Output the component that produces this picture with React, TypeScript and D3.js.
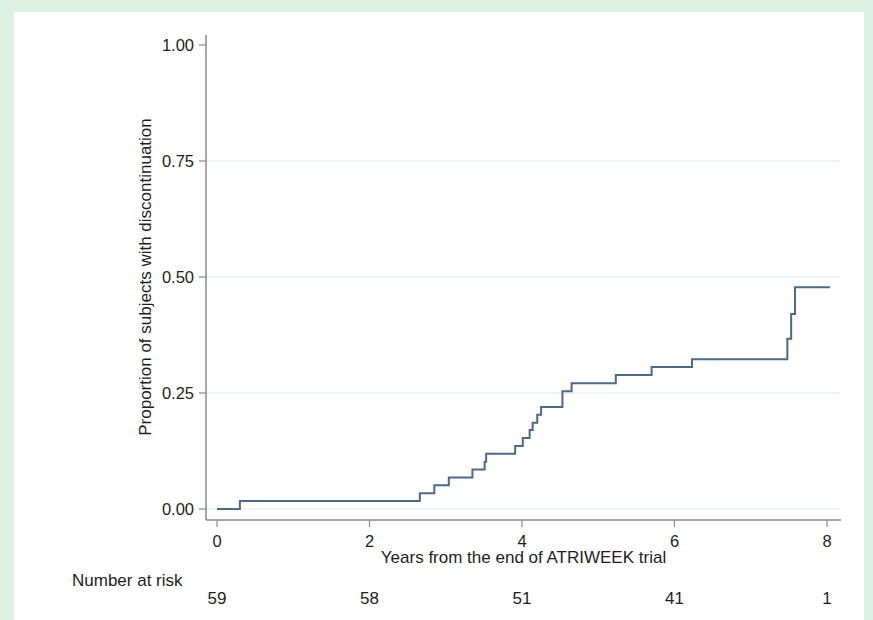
import React from 'react'
import * as d3 from 'd3'

// Kaplan-Meier style cumulative discontinuation
const eventYears = [0, 0.3, 2.66, 2.85, 3.04, 3.35, 3.51, 3.53, 3.91, 4.01, 4.1, 4.14, 4.2, 4.25, 4.53, 4.65, 5.23, 5.7, 6.23, 7.48, 7.53, 7.58, 8.04]
const cumProportion = [0, 0.017, 0.034, 0.051, 0.068, 0.085, 0.102, 0.119, 0.136, 0.153, 0.17, 0.186, 0.203, 0.22, 0.254, 0.271, 0.289, 0.306, 0.323, 0.367, 0.42, 0.478, 0.478]
const yTicks = [0, 0.25, 0.5, 0.75, 1]
const xTicks = [0, 2, 4, 6, 8]
const atRisk = [59, 58, 51, 41, 1]

const W = 873
const H = 620
const font = '"Liberation Sans", Arial, sans-serif'
const textColor = '#1e1e1e'
const axisColor = '#8a8a8a'
const gridColor = '#eaf2f2'
const lineColor = '#4a6a8d'

const App = () => {
  const x = d3.scaleLinear().domain([0, 8]).range([217, 827])
  const y = d3.scaleLinear().domain([0, 1]).range([509, 45])

  const pts = eventYears.map((t, i) => [t, cumProportion[i]] as [number, number])
  const path = d3.line<[number, number]>()
      .x(d => x(d[0]))
      .y(d => y(d[1]))
      .curve(d3.curveStepAfter)(pts)

  const axisLeft = 206
  const axisBottom = 520
  const plotRight = 841

  return (
      <svg width={W} height={H} style={{ position: 'absolute', left: 0, top: 0 }} fontFamily={font}>
        <rect x={0} y={0} width={W} height={H} fill="#dcf1e2" />
        <rect x={14} y={12} width={850} height={H - 12} fill="#ffffff" />

        {/* grid */}
        {yTicks.filter(t => t < 1).map(t => (
            <line key={'g' + t} x1={axisLeft} x2={plotRight} y1={y(t)} y2={y(t)} stroke={gridColor} strokeWidth={1.5} />
        ))}

        {/* y axis */}
        <line x1={axisLeft} x2={axisLeft} y1={35} y2={axisBottom} stroke={axisColor} strokeWidth={1.5} />
        {yTicks.map(t => (
            <g key={'y' + t}>
              <line x1={axisLeft - 7} x2={axisLeft} y1={y(t)} y2={y(t)} stroke={axisColor} strokeWidth={1.2} />
              <text x={axisLeft - 12} y={y(t)} dy="0.36em" textAnchor="end" fontSize={16.5} fill={textColor}>
                {t.toFixed(2)}
              </text>
            </g>
        ))}
        <text transform={`translate(151, ${y(0.5)}) rotate(-90)`} textAnchor="middle" fontSize={17} fill={textColor}>
          Proportion of subjects with discontinuation
        </text>

        {/* x axis */}
        <line x1={axisLeft} x2={plotRight} y1={axisBottom} y2={axisBottom} stroke={axisColor} strokeWidth={1.5} />
        {xTicks.map(t => (
            <g key={'x' + t}>
              <line x1={x(t)} x2={x(t)} y1={axisBottom} y2={axisBottom + 7} stroke={axisColor} strokeWidth={1.2} />
              <text x={x(t)} y={547} textAnchor="middle" fontSize={16.5} fill={textColor}>{t}</text>
            </g>
        ))}
        <text x={(axisLeft + plotRight) / 2} y={563} textAnchor="middle" fontSize={17} fill={textColor}>
          Years from the end of ATRIWEEK trial
        </text>

        {/* curve */}
        <path d={path ?? ''} fill="none" stroke={lineColor} strokeWidth={2} />

        {/* number at risk */}
        <text x={72} y={586} fontSize={17} fill={textColor}>Number at risk</text>
        {atRisk.map((n, i) => (
            <text key={'r' + i} x={x(xTicks[i])} y={604} textAnchor="middle" fontSize={17} fill={textColor}>{n}</text>
        ))}
      </svg>
  )
}

export default App
